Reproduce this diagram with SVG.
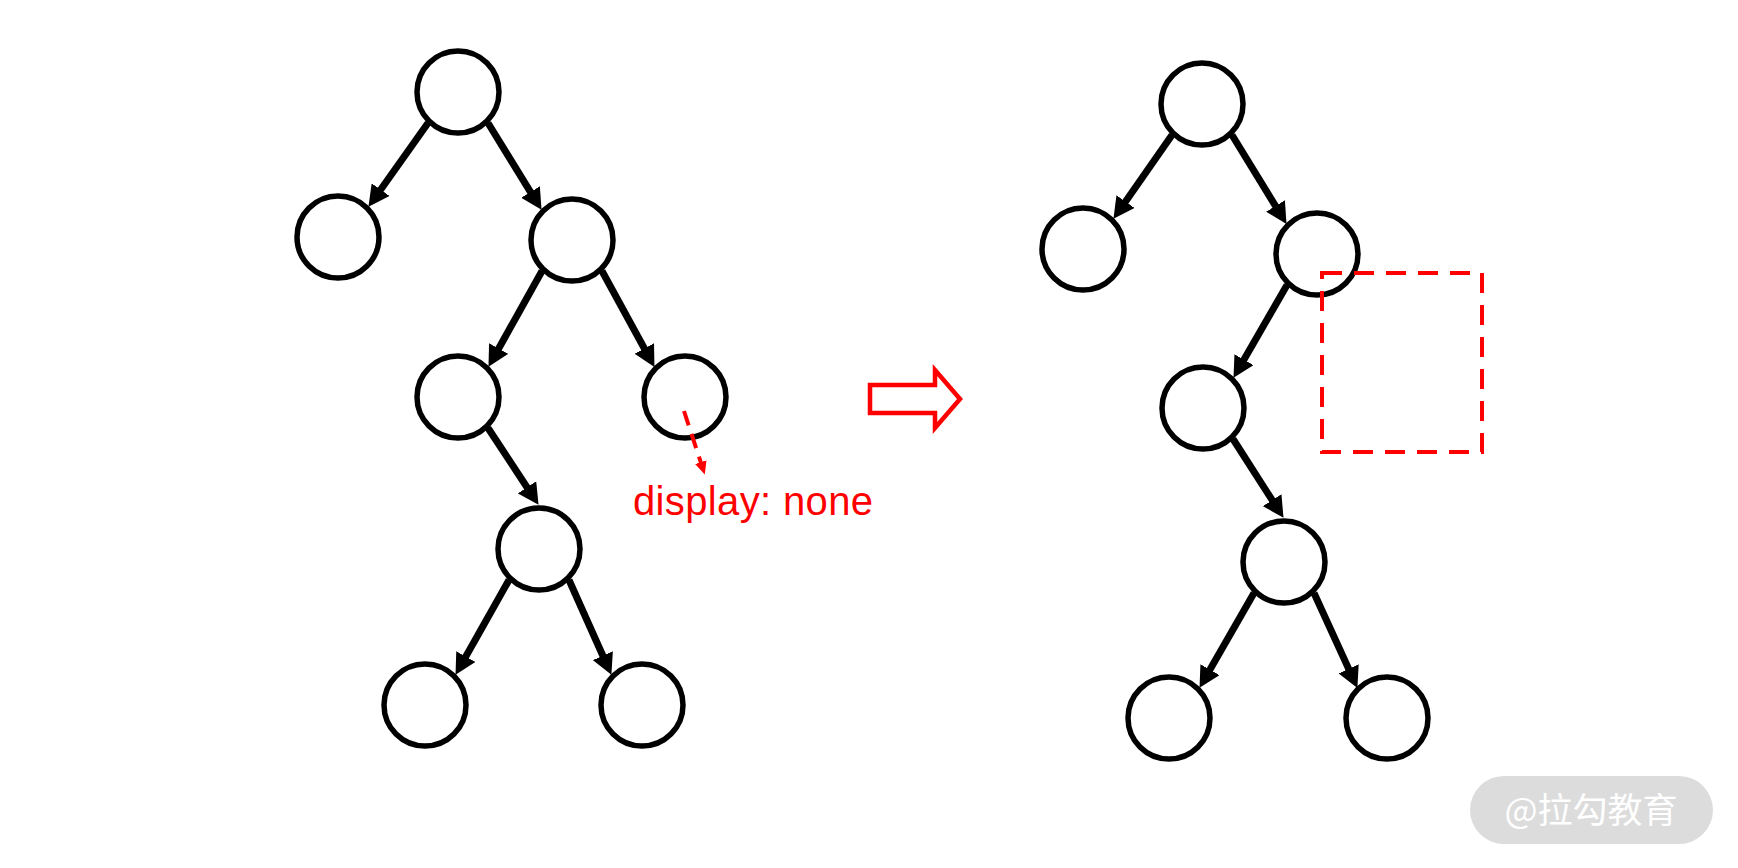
<svg xmlns="http://www.w3.org/2000/svg" width="1738" height="868" viewBox="0 0 1738 868">
<style>
.node{fill:#fff;stroke:#000;stroke-width:5.5}
.edge{stroke:#000;stroke-width:7;fill:none;marker-end:url(#ah)}
.red{fill:none;stroke:#f00}
</style>
<defs>
<marker id="ah" markerUnits="userSpaceOnUse" markerWidth="22" markerHeight="22" refX="8" refY="11" orient="auto" viewBox="0 0 22 22">
<path d="M0,0 L21,11 L0,22 z" fill="#000"/>
</marker>
<marker id="rah" markerUnits="userSpaceOnUse" markerWidth="14" markerHeight="14" refX="4" refY="6" orient="auto" viewBox="0 0 14 12">
<path d="M0,0 L13,6 L0,12 z" fill="#f00"/>
</marker>
</defs>
<rect width="1738" height="868" fill="#fff"/>
<g id="connectors">
<line class="edge" x1="428" y1="123" x2="376.0" y2="196.2"/>
<line class="edge" x1="488" y1="123" x2="534.7" y2="198.8"/>
<line class="edge" x1="542" y1="271" x2="494.8" y2="355.5"/>
<line class="edge" x1="602" y1="271" x2="648.2" y2="355.5"/>
<line class="edge" x1="488" y1="428" x2="531.4" y2="494.0"/>
<line class="edge" x1="509" y1="580" x2="461.9" y2="663.5"/>
<line class="edge" x1="569" y1="580" x2="606.1" y2="663.0"/>
<line class="edge" x1="1172" y1="135" x2="1120.9" y2="208.2"/>
<line class="edge" x1="1232" y1="135" x2="1279.7" y2="212.8"/>
<line class="edge" x1="1287" y1="285" x2="1240.0" y2="366.6"/>
<line class="edge" x1="1233" y1="439" x2="1276.5" y2="506.9"/>
<line class="edge" x1="1254" y1="593" x2="1206.0" y2="676.6"/>
<line class="edge" x1="1314" y1="593" x2="1352.0" y2="676.1"/>
</g>
<g id="left-a"><circle class="node" cx="458" cy="92" r="41"/></g>
<g id="left-b"><circle class="node" cx="338" cy="237" r="41"/></g>
<g id="left-c"><circle class="node" cx="572" cy="240" r="41"/></g>
<g id="left-d"><circle class="node" cx="458" cy="397" r="41"/></g>
<g id="left-e"><circle class="node" cx="685" cy="397" r="41"/></g>
<g id="left-f"><circle class="node" cx="539" cy="549" r="41"/></g>
<g id="left-g"><circle class="node" cx="425" cy="705" r="41"/></g>
<g id="left-h"><circle class="node" cx="642" cy="705" r="41"/></g>
<g id="pointer"><line class="red" x1="684" y1="411" x2="702" y2="466" stroke-width="4" stroke-dasharray="15 9" marker-end="url(#rah)"/></g>
<g id="label-display-none"><text x="633" y="515" font-family="'Liberation Sans', Arial, sans-serif" font-size="40" fill="#f00" textLength="240">display: none</text></g>
<g id="transform-arrow"><polygon points="870,385 935,385 935,370 960,399 935,428 935,413 870,413" fill="#fff" stroke="#f00" stroke-width="4.5"/></g>
<g id="right-a"><circle class="node" cx="1202" cy="104" r="41"/></g>
<g id="right-b"><circle class="node" cx="1083" cy="249" r="41"/></g>
<g id="right-c"><circle class="node" cx="1317" cy="254" r="41"/></g>
<g id="right-d"><circle class="node" cx="1203" cy="408" r="41"/></g>
<g id="right-f"><circle class="node" cx="1284" cy="562" r="41"/></g>
<g id="right-g"><circle class="node" cx="1169" cy="718" r="41"/></g>
<g id="right-h"><circle class="node" cx="1387" cy="718" r="41"/></g>
<g id="hidden-box"><rect class="red" x="1322" y="273" width="160" height="179" stroke-width="4" stroke-dasharray="20 12"/></g>
<g id="watermark">
<rect x="1470" y="776" width="243" height="68" rx="34" fill="#dcdcdc"/>
<text x="1591" y="823" text-anchor="middle" font-family="'Noto Sans CJK SC', 'Noto Sans', sans-serif" font-size="35" fill="#fff">@拉勾教育</text>
</g>
</svg>
